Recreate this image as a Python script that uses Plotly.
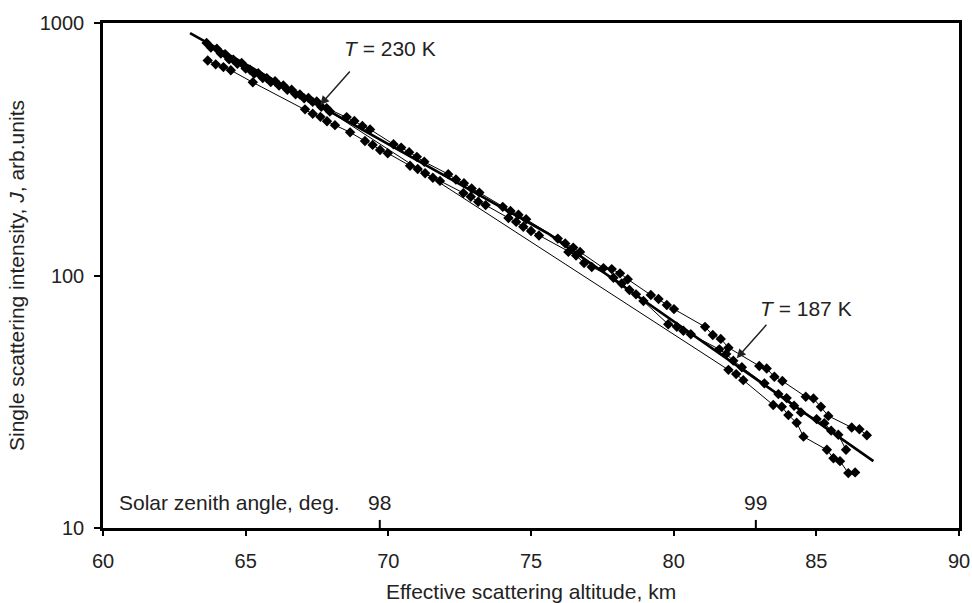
import plotly.graph_objects as go

# ---- data ----
s1_x = [63.63, 63.99, 64.28, 64.57, 64.86, 65.15, 65.44, 65.74, 66.03, 66.32, 66.61, 66.9, 67.2, 67.49, 67.84,
        68.54, 68.81, 69.09, 69.36, 70.18, 70.45, 70.73, 71.0, 71.26, 72.1, 72.37, 72.65, 72.92, 73.19,
        74.01, 74.28, 74.56, 74.83, 75.94, 76.2, 76.48, 76.72, 77.54, 77.83, 78.12, 78.39, 79.2, 79.47,
        79.76, 80.01, 81.1, 81.37, 81.65, 81.92, 83.0, 83.26, 83.53, 83.81, 84.63, 84.9, 85.16, 85.42,
        86.24, 86.51, 86.77]
s1_y = [834, 791, 753, 715, 694, 653, 633, 605, 588, 566, 544, 521, 505, 489, 460,
        424, 409, 391, 379, 331, 321, 308, 295, 282, 252, 240, 232, 221, 213,
        187, 180, 174, 167, 140, 134, 129, 124, 107, 106, 102, 96.6, 83.7, 80.7,
        76.4, 73.6, 62.6, 58.1, 56.1, 51.8, 43.8, 42.8, 39.7, 38.2, 33.1, 32.6, 30.2, 27.8,
        25.0, 24.6, 23.3]

s2_x = [63.67, 63.95, 64.22, 64.48, 65.25, 67.08, 67.35, 67.62, 67.85, 68.13, 68.66, 69.18, 69.45, 69.71,
        69.98, 70.76, 71.03, 71.29, 71.56, 71.81, 72.63, 72.89, 73.15, 73.41, 74.21, 74.48, 74.73, 75.0,
        75.28, 76.31, 76.58, 76.86, 77.13, 77.89, 78.18, 78.45, 78.68, 78.94, 79.81, 80.11, 80.34, 80.6,
        81.6, 81.84, 82.09, 82.39, 83.18, 83.67, 83.96, 84.22, 84.46, 85.01, 85.28, 85.52, 85.77, 86.04]
s2_y = [710, 686, 669, 650, 582, 455, 437, 425, 408, 394, 369, 341, 329, 314,
        305, 272, 264, 254, 244, 237, 212, 205, 196, 190, 169, 163, 156, 150,
        144, 124, 120, 112, 108, 98, 93, 87.6, 84.2, 79.2, 64.1, 62.7, 60.4, 58.5,
        51.0, 48.9, 46.0, 43.3, 37.4, 33.9, 32.7, 30.5, 28.7, 27.0, 26.0, 24.3, 23.4, 20.4]

s3_x = [63.78, 64.13, 64.42, 64.71, 65.0, 65.3, 65.6, 65.88, 66.17, 66.46, 66.75, 67.05, 67.35, 67.65, 67.95,
        81.92, 82.19, 82.44, 83.49, 83.79, 84.02, 84.31, 84.55, 85.37, 85.6, 85.83, 86.12, 86.36]
s3_y = [799, 757, 719, 690, 660, 630, 606, 584, 565, 544, 522, 503, 487, 466, 446,
        42.3, 40.7, 38.5, 30.7, 30.2, 28.0, 26.1, 23.0, 20.4, 18.9, 18.4, 16.5, 16.6]

# fitted exponential profiles (T = 230 K upper part, T = 187 K lower part)
fit_x = [63.05, 75.6, 87.0]
fit_y = [912, 146.6, 18.4]

x_ticks = [60, 65, 70, 75, 80, 85, 90]
y_ticks = [10, 100, 1000]
y_ticklabels = ["10", "100", "1000"]

sza_labels = ["98", "99"]
sza_alt = [69.7, 82.88]

temp_labels = ["<i>T</i> = 230 K", "<i>T</i> = 187 K"]
temp_text_pos = [(70.06, 2.9), (84.64, 1.87)]      # (x, log10 y)
temp_arrow_tip = [(67.61, 2.675), (82.21, 1.672)]  # (x, log10 y)

FONT = "Liberation Sans, Arial, sans-serif"
TXT = "#222"

fig = go.Figure()
fig.add_trace(go.Scatter(x=fit_x, y=fit_y, mode="lines",
                         line=dict(color="black", width=2.6), hoverinfo="skip"))
for xs, ys in [(s1_x, s1_y), (s2_x, s2_y), (s3_x, s3_y)]:
    fig.add_trace(go.Scatter(x=xs, y=ys, mode="lines+markers",
                             line=dict(color="black", width=1),
                             marker=dict(symbol="diamond", size=8, color="black")))

annotations = []
for lab, (tx, ty) in zip(temp_labels, temp_text_pos):
    annotations.append(dict(x=tx, y=ty, xref="x", yref="y", text=lab, showarrow=False,
                            font=dict(size=21, family=FONT, color=TXT),
                            xanchor="center", yanchor="middle"))
for (ax_, ay_) in temp_arrow_tip:
    annotations.append(dict(x=ax_, y=ay_, xref="x", yref="y", text="", showarrow=True,
                            arrowhead=2, arrowsize=1.2, arrowwidth=1.5, arrowcolor=TXT,
                            ax=31, ay=-35))
annotations.append(dict(x=60.5, y=0.05, xref="x", yref="paper", text="Solar zenith angle, deg.",
                        showarrow=False, xanchor="left", yanchor="middle",
                        font=dict(size=21, family=FONT, color=TXT)))
shapes = []
for lab, a in zip(sza_labels, sza_alt):
    annotations.append(dict(x=a, y=0.05, xref="x", yref="paper", text=lab, showarrow=False,
                            xanchor="center", yanchor="middle",
                            font=dict(size=21, family=FONT, color=TXT)))
    shapes.append(dict(type="line", xref="x", yref="paper", x0=a, x1=a, y0=0, y1=0.016,
                       line=dict(color="black", width=2)))

fig.update_layout(
    width=972, height=603,
    margin=dict(l=103, r=13, t=23, b=75),
    plot_bgcolor="white", paper_bgcolor="white",
    showlegend=False,
    font=dict(family=FONT, size=20, color=TXT),
    annotations=annotations, shapes=shapes,
    xaxis=dict(range=[60, 90], tickvals=x_ticks, ticks="outside", ticklen=5, tickwidth=2,
               tickcolor="black", showline=True, linewidth=2.5, linecolor="black", mirror=True,
               showgrid=False, zeroline=False, automargin=False, ticklabelstandoff=8,
               tickfont=dict(size=20, family=FONT, color=TXT),
               title=dict(text="Effective scattering altitude, km", standoff=15,
                          font=dict(size=21, family=FONT, color=TXT))),
    yaxis=dict(type="log", range=[1, 3], tickvals=y_ticks, ticktext=y_ticklabels,
               ticks="outside", ticklen=6, tickwidth=2, tickcolor="black",
               showline=True, linewidth=2.5, linecolor="black", mirror=True,
               showgrid=False, zeroline=False, automargin=False, ticklabelstandoff=6,
               tickfont=dict(size=20, family=FONT, color=TXT),
               title=dict(text="Single scattering intensity, <i>J</i>, arb.units", standoff=10,
                          font=dict(size=21, family=FONT, color=TXT))),
)

fig.write_html("out.html")
